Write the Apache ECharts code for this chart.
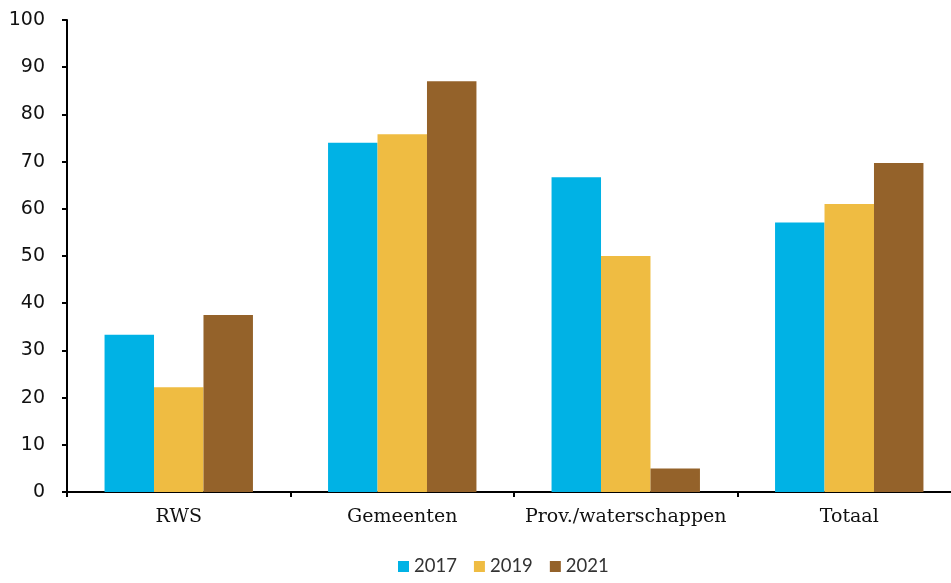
<!DOCTYPE html>
<html>
<head>
<meta charset="utf-8">
<script src="https://cdn.jsdelivr.net/npm/echarts@6/dist/echarts.min.js"></script>
<style>
  html, body { margin: 0; padding: 0; background: #fff; }
  #chart { width: 951px; height: 583px; }
</style>
</head>
<body>
<div id="chart"></div>
<script>
// Categories and yearly values (percent)
const categories = ['RWS', 'Gemeenten', 'Prov./waterschappen', 'Totaal'];
const years = ['2017', '2019', '2021'];
const values2017 = [33.3, 74.0, 66.7, 57.1];
const values2019 = [22.2, 75.8, 50.0, 61.0];
const values2021 = [37.5, 87.0, 5.0, 69.7];
const yTicks = { min: 0, max: 100, interval: 10 };

const colors = ['#00B2E5', '#EFBC42', '#94622A'];
const seriesValues = [values2017, values2019, values2021];

const chart = echarts.init(document.getElementById('chart'), null, { renderer: 'canvas' });

chart.setOption({
  animation: false,
  backgroundColor: '#ffffff',
  color: colors,
  grid: {
    left: 67, top: 20, width: 894, bottom: 91,
    containLabel: false,
    outerBoundsMode: 'none'
  },
  legend: {
    bottom: 2,
    left: 393,
    itemWidth: 11,
    itemHeight: 11,
    itemGap: 17,
    icon: 'rect',
    textStyle: { fontFamily: 'Lato, "Noto Sans", sans-serif', fontSize: 18.5, color: '#333' },
    data: years
  },
  xAxis: {
    type: 'category',
    data: categories,
    axisLine: { lineStyle: { color: '#000', width: 2 } },
    axisTick: { show: true, interval: 0, length: 5, lineStyle: { color: '#000', width: 2 } },
    axisLabel: {
      interval: 0,
      margin: 16,
      fontFamily: '"DejaVu Serif", serif',
      fontSize: 19,
      color: '#111'
    },
    splitLine: { show: false }
  },
  yAxis: {
    type: 'value',
    min: yTicks.min,
    max: yTicks.max,
    interval: yTicks.interval,
    axisLine: { show: true, lineStyle: { color: '#000', width: 2 } },
    axisTick: { show: true, length: 5, lineStyle: { color: '#000', width: 2 } },
    axisLabel: {
      margin: 22,
      fontFamily: '"DejaVu Sans", sans-serif',
      fontSize: 19,
      color: '#111'
    },
    splitLine: { show: false }
  },
  series: years.map((y, i) => ({
    name: y,
    type: 'bar',
    data: seriesValues[i],
    barGap: '0%',
    barCategoryGap: '33.6%',
    itemStyle: { color: colors[i] }
  }))
});
</script>
</body>
</html>
